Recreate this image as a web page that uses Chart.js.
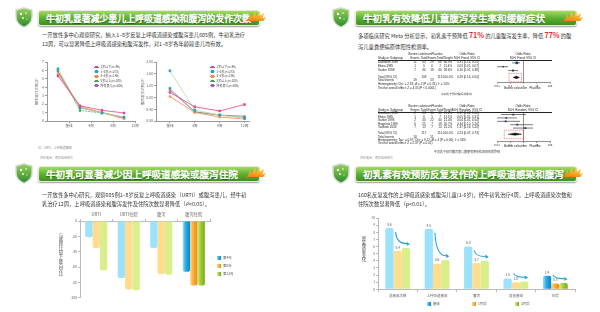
<!DOCTYPE html>
<html>
<head>
<meta charset="utf-8">
<script src="https://cdn.jsdelivr.net/npm/chart.js"></script>
<style>
  body { margin: 0; background: #fff; font-family: "Noto Sans CJK SC", "Noto Sans", sans-serif; }
  #page { position: relative; width: 600px; height: 312px; overflow: hidden; background: #fff; }
  #page div, #page canvas { position: absolute; }
  .bar { height: 16px; width: 222px; border-radius: 3px; box-sizing: border-box;
         background: linear-gradient(#a6da62, #5db132 50%, #3d901d); border: 0.6px solid #e3ecd6;
         box-shadow: 0 1px 1.5px rgba(0,0,0,.4); }
  .bar span { position: absolute; left: 7px; top: 0; line-height: 15px; color: #fff; font-weight: normal;
              -webkit-text-stroke: 0.45px #fff; letter-spacing: 0;
              white-space: nowrap; text-shadow: 0 0.5px 1px rgba(0,0,0,.5); }
  .desc { font-size: 5.3px; line-height: 9px; color: #333; white-space: nowrap; }
  .desc b { color: #e4262b; font-size: 7px; }
  .tiny { font-family: "Liberation Sans", Arial, sans-serif; font-size: 3px; line-height: 3px; color: #222; white-space: nowrap; }
  .cap { font-size: 3px; line-height: 3px; color: #444; white-space: nowrap; }
  .vt { writing-mode: vertical-rl; text-orientation: upright; color: #555; font-size: 4.3px; line-height: 5px; }
  .lg { font-size: 3px; line-height: 4px; color: #444; white-space: nowrap; }
</style>
</head>
<body>
<div id="page">
  <canvas id="urtiChart" width="105" height="78" style="left:35px;top:56px"></canvas>
  <canvas id="diarChart" width="113" height="78" style="left:141px;top:56px"></canvas>
  <canvas id="forestFixed" width="64" height="36" style="left:490px;top:56px"></canvas>
  <canvas id="forestRandom" width="64" height="44" style="left:490px;top:108px"></canvas>
  <canvas id="hospChart" width="164" height="95" style="left:50px;top:206px"></canvas>
  <canvas id="infChart" width="224" height="90" style="left:355px;top:212px"></canvas>
</div>
<script>
// ---- 数据 ----
const weekLabels = ['基线', '4周', '8周', '12周'];
const ageGroups = ['1岁以下(n=46)', '1~3岁(n=273)', '3~5岁(n=186)', '5岁以上(n=100)', '所有患儿(n=605)'];

// URTI发作次数
const urtiUnder1 = [5.35, 1.8, 1.27, 0.95];
const urti1to3 = [6.2, 1.6, 0.95, 0.47];
const urti3to5 = [5.6, 1.7, 1.0, 0.28];
const urtiOver5 = [6.0, 1.25, 0.95, 0.35];
const urtiAll = [5.85, 1.55, 1.0, 0.42];

// 腹泻发作次数
const diarUnder1 = [0.97, 0.48, 0.34, 0.56];
const diar1to3 = [1.70, 0.37, 0.20, 0.09];
const diar3to5 = [0.83, 0.29, 0.13, 0.07];
const diarOver5 = [1.11, 0.31, 0.20, 0.12];
const diarAll = [1.05, 0.31, 0.20, 0.16];

// Meta 分析 (固定效应)
const fixedStudies = ['Davidson 1989', 'Ebina 1985', 'Sarker 1998'];
const fixedColEvents = [11, 1, 7];
const fixedColTotal = [63, 6, 40];
const fixedPlaEvents = [29, 6, 18];
const fixedPlaTotal = [66, 7, 40];
const fixedWeight = [60.0, 11.4, 28.6];
const fixedOr = [0.31, 0.03, 0.16];
const fixedLo = [0.14, 0.005, 0.07];
const fixedHi = [0.55, 0.07, 0.38];
const fixedTotal = [0.29, 0.16, 0.50];

// Meta 分析 (随机效应)
const randStudies = ['Davidson 1989', 'Ebina 1985', 'Sarker 1998', 'Huppertz 1999', 'Tawfeek 2003'];
const randColEvents = [2, 1, 2, 6, 7];
const randColTotal = [33, 6, 40, 25, 13];
const randPlaEvents = [10, 5, 22, 7, 7];
const randPlaTotal = [35, 7, 40, 18, 14];
const randWeight = [21.2, 11.5, 21.4, 20.7, 25.2];
const randOr = [0.17, 0.05, 0.045, 0.34, 1.37];
const randLo = [0.02, 0.007, 0.008, 0.1, 0.16];
const randHi = [1.5, 0.31, 0.54, 5.2, 5.2];
const randTotal = [0.23, 0.07, 0.73];
const forestTicks = [0.01, 0.1, 1, 10, 100];

// 住院/发作下降百分比
const hospCats = ['URTI', 'URTI住院', '腹泻', '腹泻住院'];
const hospWeeks = ['第4周', '第8周', '第12周'];
const dropWeek4 = [-21, -74, -35, -66];
const dropWeek8 = [-35, -89, -69, -84];
const dropWeek12 = [-64, -90, -70, -84];

// 感染频率
const infCats = ['总感染次数', '上呼吸道感染', '腹泻', '其他感染', '住院'];
const infGroups = ['基线', '1月后', '3月后'];
const infBase = [8.6, 8.5, 6.0, 1.5, 1.9];
const infMonth1 = [5.4, 3.6, 3.7, 1.0, 0.8];
const infMonth3 = [5.8, 4.1, 4.0, 1.1, 0.9];

// ---- 样式 ----
const lineColors = ['#e9408b', '#b9df8c', '#f5874a', '#4fb35c', '#a45fc8'];
const markColors = ['#e9408b', '#1d9fda', '#f5874a', '#36a852', '#a45fc8'];
const markStyles = ['rect', 'rect', 'triangle', 'rect', 'star'];
const shades = [
  ['#9be2fa', '#27aee6', '#0c84c4'],
  ['#ffdc8e', '#fbb03b', '#ee8c10'],
  ['#d8ef8c', '#a3cf3a', '#74aa1a']
];

Chart.defaults.font.family = "'Noto Sans CJK SC', 'Noto Sans', sans-serif";
Chart.defaults.color = '#666';
Chart.defaults.animation = false;
Chart.defaults.responsive = false;
Chart.defaults.plugins.legend.display = false;
Chart.defaults.plugins.tooltip.enabled = false;

const page = document.getElementById('page');
function put(html, x, y, cls, css) {
  const d = document.createElement('div');
  d.innerHTML = html;
  if (cls) d.className = cls;
  d.style.cssText = 'left:' + x + 'px;top:' + y + 'px;' + (css || '');
  page.appendChild(d);
  return d;
}

const shieldSvg = '<svg width="18" height="21" viewBox="0 0 18 21"><defs><linearGradient id="sg" x1="0" y1="0" x2="0" y2="1">' +
  '<stop offset="0" stop-color="#96d456"/><stop offset="1" stop-color="#2c8a2c"/></linearGradient></defs>' +
  '<path d="M9 0.8 L17 3 L17 10 C17 15 13 18.5 9 20.2 C5 18.5 1 15 1 10 L1 3 Z" fill="url(#sg)" stroke="#d5dadc" stroke-width="1.4"/>' +
  '<circle cx="6" cy="7" r="1.2" fill="#fff"/><circle cx="11" cy="6" r="0.8" fill="#fff"/><circle cx="8" cy="11" r="0.9" fill="#fff"/>' +
  '<circle cx="12" cy="12" r="0.6" fill="#fff"/></svg>';
const flameSvg = '<svg width="22" height="10" viewBox="0 0 24 12" preserveAspectRatio="none"><defs><linearGradient id="fg" x1="0" y1="1" x2="0.3" y2="0">' +
  '<stop offset="0" stop-color="#f07a12"/><stop offset="1" stop-color="#ffd63c"/></linearGradient></defs>' +
  '<path d="M2 12 L6 4 L7 8 L11 1 L12 7 L16 0 L16 6 L21 2 L19 9 L23 7 L20 12 Z" fill="url(#fg)"/></svg>';

// 标题条：字号按参考图里标题的宽度来定
function header(x, y, title, textWidth) {
  put(shieldSvg, x - 23, y - 3);
  const size = textWidth / title.length;
  put('<span style="font-size:' + size.toFixed(2) + 'px">' + title + '</span>', x, y, 'bar');
  put(flameSvg, x + 207, y - 8.5);
}

header(38, 10, '牛初乳显著减少患儿上呼吸道感染和腹泻的发作次数', 205);
header(355, 10, '牛初乳有效降低儿童腹泻发生率和缓解症状', 182);
header(38, 166, '牛初乳可显著减少因上呼吸道感染或腹泻住院', 192);
header(355, 166, '初乳素有效预防反复发作的上呼吸道感染和腹泻', 201);

put('一开放性多中心观察研究，纳入1~8岁反复上呼吸道感染或腹泻患儿605例，牛初乳治疗<br>12周，可以显著降低上呼吸道感染和腹泻发作，对1~8岁各年龄段患儿均有效。', 42, 30.5, 'desc');
put('多项临床研究 Meta 分析显示，初乳素干预降低 <b>71%</b> 的儿童腹泻发生率，降低 <b>77%</b> 的腹<br>泻儿童粪便病原体阳性检测率。', 358, 30, 'desc', 'line-height:10.5px');
put('一开放性多中心研究，观察605例1~8岁反复上呼吸道感染（URTI）或腹泻患儿，经牛初<br>乳治疗12周，上呼吸道感染和腹泻发作及住院次数显著降低（<i>P</i>&lt;0.05）。', 42, 190.8, 'desc');
put('160名反复发作的上呼吸道感染或腹泻儿童(1-6岁)，经牛初乳治疗4周，上呼吸道感染次数和<br>住院次数显著降低（p&lt;0.01）。', 358, 191, 'desc', 'line-height:8.5px');

put('注：URTI，上呼吸道感染', 38, 146.5, 'cap', 'color:#888');
put('资料来源：相关临床研究', 40, 157, 'cap', 'color:#999');
put('资料来源：相关临床研究', 360, 157, 'cap', 'color:#999');

// ---- 折线图 ----
function lineChart(id, series, opt) {
  return new Chart(document.getElementById(id), {
    type: 'line',
    data: {
      datasets: series.map((vals, k) => ({
        label: ageGroups[k],
        data: vals.map((v, i) => ({ x: i + opt.pointShift, y: v })),
        borderColor: lineColors[k],
        backgroundColor: markColors[k],
        pointBorderColor: markColors[k],
        borderWidth: 0.8,
        borderDash: k === 3 ? [2, 1] : [],
        pointStyle: markStyles[k],
        pointRadius: 1.4,
        pointBorderWidth: 0.5
      }))
    },
    options: {
      layout: { padding: { top: 6, right: opt.padRight } },
      scales: {
        x: {
          type: 'linear', min: opt.xMin, max: opt.xMax,
          afterBuildTicks: s => { s.ticks = weekLabels.map((_, i) => ({ value: i + opt.tickShift })); },
          afterFit: s => { s.height = 13; },
          ticks: { callback: (v, i) => weekLabels[i], font: { size: 3.5 }, padding: 1, maxRotation: 0, autoSkip: false },
          grid: { drawOnChartArea: false, tickLength: 2, color: '#9a9a9a' },
          border: { color: '#9a9a9a' }
        },
        y: {
          min: 0, max: opt.yMax,
          afterFit: s => { s.width = opt.yWidth; },
          ticks: { stepSize: opt.yStep, callback: opt.yFmt, font: { size: 3.5 }, padding: 1 },
          grid: { drawOnChartArea: false, tickLength: 2, color: '#9a9a9a' },
          border: { color: '#9a9a9a' },
          title: { display: true, text: opt.yTitle, font: { size: 3.5 }, padding: 0 }
        }
      }
    }
  });
}

function lineLegend(chart, x, y) {
  chart.data.datasets.forEach((ds, k) => {
    const top = y + k * 4.67 - 2;
    put('<div style="left:0;top:1.6px;width:5px;height:0.8px;background:' + ds.borderColor + '"></div>' +
        '<div style="left:1.3px;top:0.8px;width:2.4px;height:2.4px;background:' + ds.backgroundColor + '"></div>' +
        '<div class="lg" style="left:6.5px;top:0">' + ds.label + '</div>', x, top);
  });
}

const urtiChart = lineChart('urtiChart', [urtiUnder1, urti1to3, urti3to5, urtiOver5, urtiAll], {
  pointShift: 0.5, tickShift: 1, xMin: 0, xMax: 4, yMax: 7, yStep: 1, yFmt: v => v,
  yWidth: 12, padRight: 5, yTitle: 'URTI发作次数(次)'
});
const diarChart = lineChart('diarChart', [diarUnder1, diar1to3, diar3to5, diarOver5, diarAll], {
  pointShift: 0, tickShift: 0, xMin: -0.56, xMax: 3.2, yMax: 2, yStep: 0.2, yFmt: v => v.toFixed(2),
  yWidth: 15, padRight: 4, yTitle: '腹泻发作次数(次)'
});
lineLegend(urtiChart, 94, 67);
lineLegend(diarChart, 210, 67);

// ---- 森林图 ----
const dashBox = {
  id: 'dashBox',
  afterDatasetsDraw(chart, args, o) {
    const { ctx, scales: { x, y } } = chart;
    const x0 = x.getPixelForValue(o.lo) - 4, x1 = x.getPixelForValue(o.hi) + 2;
    const yc = y.getPixelForValue(o.row);
    ctx.save();
    ctx.strokeStyle = '#e2383a';
    ctx.lineWidth = 0.6;
    ctx.setLineDash([1, 0.8]);
    ctx.strokeRect(x0, yc - 4, x1 - x0, 8.5);
    ctx.restore();
  }
};

function forestChart(id, f) {
  const n = f.studies.length, tRow = n + 0.8;
  const datasets = f.studies.map((s, i) => ({
    data: [{ x: f.lo[i], y: i }, { x: f.hi[i], y: i }],
    showLine: true, borderColor: '#222', borderWidth: 0.6, pointRadius: 0
  }));
  datasets.push({
    data: f.or.map((v, i) => ({ x: v, y: i })),
    pointStyle: 'rect', pointRadius: f.weight.map(w => 0.5 + Math.sqrt(w) * 0.17),
    backgroundColor: '#2845a5', borderWidth: 0
  });
  const [tOr, tLo, tHi] = f.total;
  datasets.push({
    data: [{ x: tLo, y: tRow }, { x: tOr, y: tRow - 0.35 }, { x: tHi, y: tRow }, { x: tOr, y: tRow + 0.35 }, { x: tLo, y: tRow }],
    showLine: true, fill: 'shape', backgroundColor: '#111', borderColor: '#111', borderWidth: 0.4, pointRadius: 0
  });
  return new Chart(document.getElementById(id), {
    type: 'scatter',
    data: { datasets },
    options: {
      layout: { padding: { top: 3, left: 7, right: 4 } },
      plugins: { dashBox: { lo: tLo, hi: tHi, row: tRow } },
      scales: {
        x: {
          type: 'logarithmic', min: 0.01, max: 100,
          afterBuildTicks: s => { s.ticks = forestTicks.map(v => ({ value: v })); },
          afterFit: s => { s.height = f.axisH; },
          ticks: { callback: (v, i) => String(forestTicks[i]), font: { size: 2.8 }, padding: 0.5, color: '#222', maxRotation: 0, autoSkip: false },
          grid: { color: c => (c.tick && c.tick.value === 1 ? '#222' : 'rgba(0,0,0,0)'), tickColor: '#222', tickLength: 1.5, lineWidth: 0.5 },
          border: { color: '#222', width: 0.5 }
        },
        y: { display: false, min: -0.75, max: f.yMax, reverse: true }
      }
    },
    plugins: [dashBox]
  });
}

function forestTable(f, rowTop, rowPx, footPx, method, hetText, testText) {
  const c = (txt, x, y) => put(txt, x, y - 1.5, 'tiny', 'transform:translateX(-50%)');
  const l = (txt, x, y) => put(txt, x, y - 1.5, 'tiny');
  const h1 = rowTop - 7.2, h2 = rowTop - 3.6;
  c('Bovine colostrum', 420, h1); c('Placebo', 437, h1); c('Odds Ratio', 467, h1); c('Odds Ratio', 523, h1);
  l('Study or Subgroup', 378, h2); c('Events', 415, h2); c('Total', 424, h2); c('Events', 432, h2);
  c('Total', 440, h2); c('Weight', 448, h2); c('M-H, ' + method + ', 95% CI', 467, h2); c('M-H, ' + method + ', 95% CI', 523, h2);
  put('', 378, rowTop - 2, '', 'width:174px;height:0.4px;background:#222');
  const fmt = (o, a, b) => o.toFixed(2) + ' [' + a.toFixed(2) + ', ' + b.toFixed(2) + ']';
  f.studies.forEach((s, i) => {
    const y = rowTop + i * rowPx;
    l(s, 378, y); c(f.colEv[i], 415, y); c(f.colTot[i], 424, y); c(f.plaEv[i], 432, y); c(f.plaTot[i], 440, y);
    c(f.weight[i].toFixed(1) + '%', 448, y); l(fmt(f.or[i], f.lo[i], f.hi[i]), 457, y);
  });
  const sum = a => a.reduce((p, q) => p + q, 0);
  const yt = rowTop + (f.studies.length + 0.8) * rowPx;
  l('Total (95% CI)', 378, yt); c(sum(f.colTot), 424, yt); c(sum(f.plaTot), 440, yt); c('100.0%', 448, yt);
  l(fmt(f.total[0], f.total[1], f.total[2]), 457, yt);
  l('Total events', 378, yt + footPx); c(sum(f.colEv), 415, yt + footPx); c(sum(f.plaEv), 432, yt + footPx);
  l(hetText, 378, yt + footPx * 2);
  l(testText, 378, yt + footPx * 3);
}

const fixedSet = { studies: fixedStudies, colEv: fixedColEvents, colTot: fixedColTotal, plaEv: fixedPlaEvents, plaTot: fixedPlaTotal,
  weight: fixedWeight, or: fixedOr, lo: fixedLo, hi: fixedHi, total: fixedTotal, yMax: 5, axisH: 10 };
const randSet = { studies: randStudies, colEv: randColEvents, colTot: randColTotal, plaEv: randPlaEvents, plaTot: randPlaTotal,
  weight: randWeight, or: randOr, lo: randLo, hi: randHi, total: randTotal, yMax: 7.96, axisH: 10.5 };

forestChart('forestFixed', fixedSet);
forestChart('forestRandom', randSet);
forestTable(fixedSet, 62, 4, 3.6, 'Fixed', 'Heterogeneity: Chi² = 2.33, df = 2 (P = 0.31); I² = 14%', 'Test for overall effect: Z = 4.35 (P < 0.0001)');
forestTable(randSet, 113.6, 3.5, 3.3, 'Random', 'Heterogeneity: Tau² = 0.97; Chi² = 9.12, df = 4 (P = 0.06); I² = 56%', 'Test for overall effect: Z = 2.37 (P = 0.02)');
put('Bovine colostrum&nbsp;&nbsp;&nbsp;Placebo', 504, 86.5, 'tiny');
put('Bovine colostrum&nbsp;&nbsp;&nbsp;Placebo', 504, 144.5, 'tiny');
put('牛初乳干预对腹泻的影响', 441, 93, 'cap', 'font-size:2.8px');
put('牛初乳干预对腹泻患儿粪便病原体检测阳性的影响', 434, 151.3, 'cap');

// ---- 柱状图 ----
const cylinder = {
  id: 'cylinder',
  beforeDatasetsDraw(chart) {
    const ctx = chart.ctx;
    chart.data.datasets.forEach((ds, k) => {
      chart.getDatasetMeta(k).data.forEach(bar => {
        const g = ctx.createLinearGradient(bar.x - bar.width / 2, 0, bar.x + bar.width / 2, 0);
        g.addColorStop(0, shades[k][0]);
        g.addColorStop(0.4, shades[k][1]);
        g.addColorStop(1, shades[k][2]);
        bar.options.backgroundColor = g;
      });
    });
  }
};

function barLegend(chart, pos) {
  chart.data.datasets.forEach((ds, k) => {
    const [x, y] = pos[k];
    put('<div style="left:0;top:0;width:4px;height:4px;background:linear-gradient(90deg,' + shades[k].join(',') + ')"></div>' +
        '<div class="lg" style="left:6px;top:0;font-size:3.3px;color:#555">' + ds.label + '</div>', x, y - 2);
  });
}

const hospChart = new Chart(document.getElementById('hospChart'), {
  type: 'bar',
  data: {
    labels: hospCats,
    datasets: [dropWeek4, dropWeek8, dropWeek12].map((d, k) => ({
      label: hospWeeks[k], data: d, backgroundColor: shades[k][1], borderRadius: 2, borderSkipped: 'start'
    }))
  },
  options: {
    layout: { padding: { right: 4, bottom: 3 } },
    datasets: { bar: { categoryPercentage: 0.68, barPercentage: 1 } },
    scales: {
      x: {
        position: 'top',
        afterFit: s => { s.height = 15; },
        ticks: { font: { size: 4.3 }, padding: 2, maxRotation: 0 },
        grid: { drawOnChartArea: false, tickLength: 2, color: '#bbb' },
        border: { color: '#bbb' }
      },
      y: {
        min: -100, max: 0,
        afterFit: s => { s.width = 30; },
        ticks: { stepSize: 20, font: { size: 3.5 }, padding: 1 },
        grid: { drawOnChartArea: false, tickLength: 2, color: '#bbb' },
        border: { color: '#bbb' }
      }
    }
  },
  plugins: [cylinder]
});
barLegend(hospChart, [[217, 258.3], [217, 266], [217, 273.7]]);
put('与基线比较下降百分比', 58, 233, 'vt');

const barNotes = {
  id: 'barNotes',
  afterDatasetsDraw(chart) {
    const ctx = chart.ctx;
    ctx.save();
    ctx.font = "3.2px 'Noto Sans CJK SC'";
    ctx.fillStyle = '#555';
    ctx.textAlign = 'center';
    ctx.textBaseline = 'bottom';
    [0, 1].forEach(k => chart.getDatasetMeta(k).data.forEach((b, i) => {
      ctx.fillText(chart.data.datasets[k].data[i].toFixed(1), b.x, b.y - 1.8);
    }));
    const blue = chart.getDatasetMeta(0).data, green = chart.getDatasetMeta(2).data;
    ctx.strokeStyle = '#2aa3dc';
    ctx.fillStyle = '#2aa3dc';
    ctx.lineWidth = 1.1;
    blue.forEach((b, i) => {
      const g = green[i];
      const sx = b.x + b.width / 2 + 2, sy = Math.min(b.y + 4, g.y - 8);
      const ex = g.x + 3, ey = g.y - 4;
      ctx.beginPath();
      ctx.moveTo(sx, sy);
      ctx.quadraticCurveTo(sx + 1, ey, ex - 2, ey - 0.3);
      ctx.stroke();
      ctx.beginPath();
      ctx.moveTo(ex + 1, ey + 0.3);
      ctx.lineTo(ex - 2.5, ey - 2.2);
      ctx.lineTo(ex - 2, ey + 1.9);
      ctx.closePath();
      ctx.fill();
    });
    ctx.restore();
  }
};

const infChart = new Chart(document.getElementById('infChart'), {
  type: 'bar',
  data: {
    labels: infCats,
    datasets: [infBase, infMonth1, infMonth3].map((d, k) => ({
      label: infGroups[k], data: d, backgroundColor: shades[k][1], borderRadius: 2, borderSkipped: 'start'
    }))
  },
  options: {
    layout: { padding: { top: 6, right: 4 } },
    datasets: { bar: { categoryPercentage: 0.63, barPercentage: 1 } },
    scales: {
      x: {
        afterFit: s => { s.height = 12.7; },
        ticks: { font: { size: 3.5 }, padding: 1, maxRotation: 0 },
        grid: { drawOnChartArea: false, tickLength: 3, color: '#bbb' },
        border: { color: '#bbb' }
      },
      y: {
        min: 0, max: 10,
        afterFit: s => { s.width = 23; },
        ticks: { stepSize: 1, font: { size: 3.3 }, padding: 1 },
        grid: { drawOnChartArea: false, tickLength: 2, color: '#bbb' },
        border: { color: '#bbb' }
      }
    }
  },
  plugins: [cylinder, barNotes]
});
barLegend(infChart, [[427, 303.7], [472, 303.7], [515, 303.7]]);
put('感染频率变化', 361, 236, 'vt');
</script>
</body>
</html>
